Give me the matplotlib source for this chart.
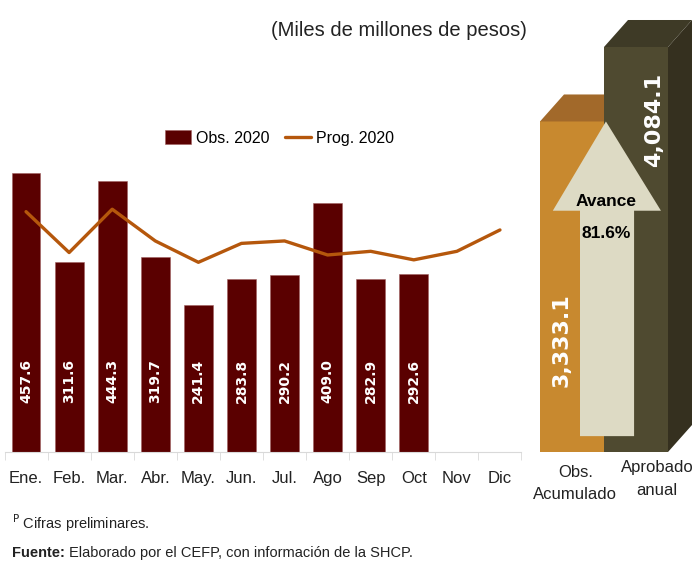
import matplotlib
matplotlib.use('Agg')
import matplotlib.pyplot as plt
from matplotlib.patches import Polygon
import numpy as np

plt.rcParams['font.family'] = ['Liberation Sans', 'DejaVu Sans']

#----------------------------
#          DATA
#----------------------------
meses = ['Ene.', 'Feb.', 'Mar.', 'Abr.', 'May.', 'Jun.', 'Jul.', 'Ago', 'Sep', 'Oct', 'Nov', 'Dic']
obs_2020 = [457.6, 311.6, 444.3, 319.7, 241.4, 283.8, 290.2, 409.0, 282.9, 292.6]
prog_2020 = [394, 327, 398, 346, 311, 342, 346, 323, 329, 315, 329, 364]

acum_labels = ['Obs.\nAcumulado', 'Aprobado\nanual']
acum_values = [3333.1, 4084.1]
avance = 81.6

c_bar = '#5A0000'
c_line = '#B5570C'
c_front = ['#C8892F', '#4F4A30']
c_top = ['#A2692A', '#3E3A26']
c_side = ['#8A5A20', '#35301F']
c_arrow = '#DDDAC4'

fig = plt.figure(figsize=(6.95, 5.65), dpi=100)
W, H = 695.0, 565.0

# ===========================
#     monthly bars + line
# ===========================
ax = fig.add_axes([4.5/W, (H-452)/H, 517/W, 305/H])
x = np.arange(len(meses))
bars = ax.bar(x[:len(obs_2020)], obs_2020, width=0.67, color=c_bar,
              edgecolor='#A06060', linewidth=0.4, label='Obs. 2020', zorder=2)
line, = ax.plot(x, prog_2020, color=c_line, lw=2.4, solid_capstyle='round',
                label='Prog. 2020', zorder=3)
for xi, v in zip(x, obs_2020):
    ax.text(xi, 116, '%.1f' % v, rotation=90, ha='center', va='center',
            color='white', fontsize=10, fontweight='bold', family='DejaVu Sans', zorder=4)

ax.set_xlim(-0.5, 11.5)
ax.set_ylim(0, 500)
for s in ['top', 'right', 'left']:
    ax.spines[s].set_visible(False)
ax.spines['bottom'].set_color('#D9D9D9')
ax.set_yticks([])
ax.set_xticks(x)
ax.set_xticklabels(meses, fontsize=12, color='#222222')
ax.tick_params(axis='x', which='major', length=0, pad=14)
ax.set_xticks(np.arange(-0.5, 12, 1), minor=True)
ax.tick_params(axis='x', which='minor', length=6, color='#D9D9D9', direction='out')
ax.patch.set_alpha(0)

ax.legend([bars, line], ['Obs. 2020', 'Prog. 2020'], loc='center',
          bbox_to_anchor=(275/517, (452-138)/305), ncol=2,
          frameon=False, fontsize=11.5, handlelength=1.6, handleheight=1.0,
          columnspacing=1.0, handletextpad=0.3)

# ===========================
#     accumulated 3D bars
# ===========================
ax2 = fig.add_axes([540/W, (H-452)/H, 128/W, 452/H])
ax2.set_xlim(0, 2)
ymax = 4558
ax2.set_ylim(0, ymax)
ax2.axis('off')
dx = 24/64.0
dy = 27*ymax/452.0
for i, h in enumerate(acum_values):
    x0 = i
    front = Polygon([(x0, 0), (x0+1, 0), (x0+1, h), (x0, h)], closed=True,
                     facecolor=c_front[i], edgecolor='none', zorder=2+i)
    top = Polygon([(x0, h), (x0+1, h), (x0+1+dx, h+dy), (x0+dx, h+dy)], closed=True,
                  facecolor=c_top[i], edgecolor='none', zorder=2+i, clip_on=False)
    side = Polygon([(x0+1, 0), (x0+1+dx, dy), (x0+1+dx, h+dy), (x0+1, h)], closed=True,
                   facecolor=c_side[i], edgecolor='none', zorder=1+i, clip_on=False)
    for p in (side, front, top):
        ax2.add_patch(p)

# arrow from base up to observed total
tip = acum_values[0]
head_base = tip - 900
arrow = Polygon([(0.625, 160), (1.47, 160), (1.47, head_base), (1.89, head_base),
                 (1.03, tip), (0.2, head_base), (0.625, head_base)], closed=True,
                facecolor=c_arrow, edgecolor='none', zorder=5)
ax2.add_patch(arrow)
ax2.text(1.04, head_base + 90, 'Avance', ha='center', va='center', fontsize=12.5,
         fontweight='bold', color='black', zorder=6)
ax2.text(1.04, head_base - 230, '%.1f%%' % avance, ha='center', va='center', fontsize=12.5,
         fontweight='bold', color='black', zorder=6)

ax2.text(0.33, 1130, '{:,.1f}'.format(acum_values[0]), rotation=90, ha='center', va='center',
         color='white', fontsize=16, fontweight='bold', family='DejaVu Sans', zorder=6)
ax2.text(1.78, 3350, '{:,.1f}'.format(acum_values[1]), rotation=90, ha='center', va='center',
         color='white', fontsize=16, fontweight='bold', family='DejaVu Sans', zorder=6)

ax2.text(0.55, -317, acum_labels[0], ha='center', va='center', fontsize=12,
         color='#222222', linespacing=1.65, clip_on=False)
ax2.text(1.83, -272, acum_labels[1], ha='center', va='center', fontsize=12,
         color='#222222', linespacing=1.65, clip_on=False)

# ===========================
#     texts
# ===========================
fig.text(527/W, 1-30/H, '(Miles de millones de pesos)', ha='right', va='center',
         fontsize=14.5, color='#222222')
fig.text(12/W, 1-523/H, r'$^{\mathrm{P}}$ Cifras preliminares.', ha='left', va='center',
         fontsize=10.5, color='#222222')
t1 = fig.text(12/W, 1-553/H, 'Fuente:', ha='left', va='center', fontsize=10.5,
              fontweight='bold', color='#222222')
fig.canvas.draw()
bb = t1.get_window_extent()
fig.text(bb.x1/W + 4/W, 1-553/H, 'Elaborado por el CEFP, con información de la SHCP.',
         ha='left', va='center', fontsize=10.5, color='#222222')

plt.savefig('out.png', dpi=100)
